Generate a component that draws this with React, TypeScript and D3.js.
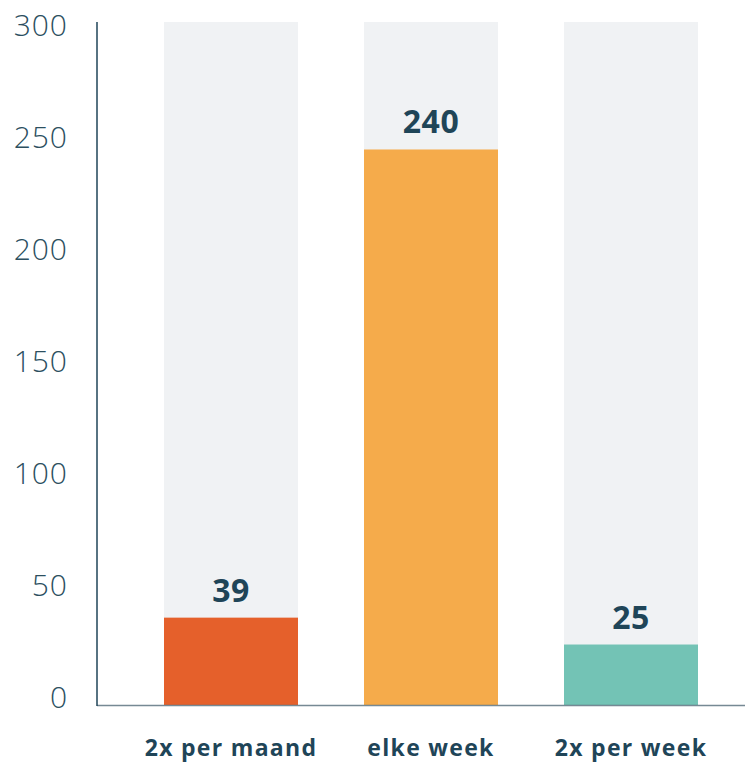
import React, { useRef, useEffect } from "react";
import * as d3 from "d3";

const categories = ["2x per maand", "elke week", "2x per week"];
const barValues = [39, 248, 27];
const valueLabels = ["39", "240", "25"];
const barColors = ["#e5602b", "#f5ab4b", "#73c3b5"];
const yTicks = [0, 50, 100, 150, 200, 250, 300];

const width = 745;
const height = 765;

const App = () => {
  const svgRef = useRef<SVGSVGElement>(null);

  useEffect(() => {
    const svg = d3.select(svgRef.current);
    svg.selectAll("*").remove();

    const textColor = "#1f4558";
    const font = "'Open Sans', sans-serif";

    const x = d3.scaleBand<string>()
      .domain(categories)
      .range([97, 765])
      .paddingInner(0.33)
      .paddingOuter(0.335);

    const y = d3.scaleLinear().domain([0, 300]).range([705, 33]);
    const bgTop = 22;

    // grey background columns
    svg.append("g")
      .selectAll("rect")
      .data(categories)
      .enter()
      .append("rect")
      .attr("x", d => x(d)!)
      .attr("y", bgTop)
      .attr("width", x.bandwidth())
      .attr("height", y(0) - bgTop)
      .style("fill", "#f0f2f4");

    // value bars
    svg.append("g")
      .selectAll("rect")
      .data(barValues)
      .enter()
      .append("rect")
      .attr("x", (d, i) => x(categories[i])!)
      .attr("y", d => y(d))
      .attr("width", x.bandwidth())
      .attr("height", d => y(0) - y(d))
      .style("fill", (d, i) => barColors[i]);

    // value labels
    svg.append("g")
      .selectAll("text")
      .data(barValues)
      .enter()
      .append("text")
      .attr("x", (d, i) => x(categories[i])! + x.bandwidth() / 2)
      .attr("y", d => y(d) - 16)
      .attr("text-anchor", "middle")
      .style("font-family", font)
      .style("font-weight", 700)
      .style("font-size", "32px")
      .style("letter-spacing", "0.5px")
      .style("fill", textColor)
      .text((d, i) => valueLabels[i]);

    // y tick labels
    svg.append("g")
      .selectAll("text")
      .data(yTicks)
      .enter()
      .append("text")
      .attr("x", 68)
      .attr("y", d => y(d) - 9)
      .attr("text-anchor", "end")
      .attr("dominant-baseline", "central")
      .style("font-family", font)
      .style("font-weight", 300)
      .style("font-size", "30px")
      .style("letter-spacing", "1px")
      .style("fill", "#2c4f5f")
      .text(d => d);

    // category labels
    svg.append("g")
      .selectAll("text")
      .data(categories)
      .enter()
      .append("text")
      .attr("x", d => x(d)! + x.bandwidth() / 2)
      .attr("y", 756)
      .attr("text-anchor", "middle")
      .style("font-family", font)
      .style("font-weight", 700)
      .style("font-size", "23px")
      .style("letter-spacing", "1.3px")
      .style("fill", textColor)
      .text(d => d);

    // axes lines
    svg.append("line")
      .attr("x1", 97).attr("x2", width)
      .attr("y1", 705.5).attr("y2", 705.5)
      .style("stroke", "#5f7582")
      .style("stroke-width", 1.5)
      .style("opacity", 0.85);

    svg.append("line")
      .attr("x1", 97).attr("x2", 97)
      .attr("y1", bgTop).attr("y2", 706)
      .style("stroke", "#1f4558")
      .style("stroke-width", 1.5);
  }, []);

  return (
    <div style={{ position: "absolute", left: 0, top: 0 }}>
      <svg ref={svgRef} width={width} height={height} style={{ display: "block" }}></svg>
    </div>
  );
};

export default App;
